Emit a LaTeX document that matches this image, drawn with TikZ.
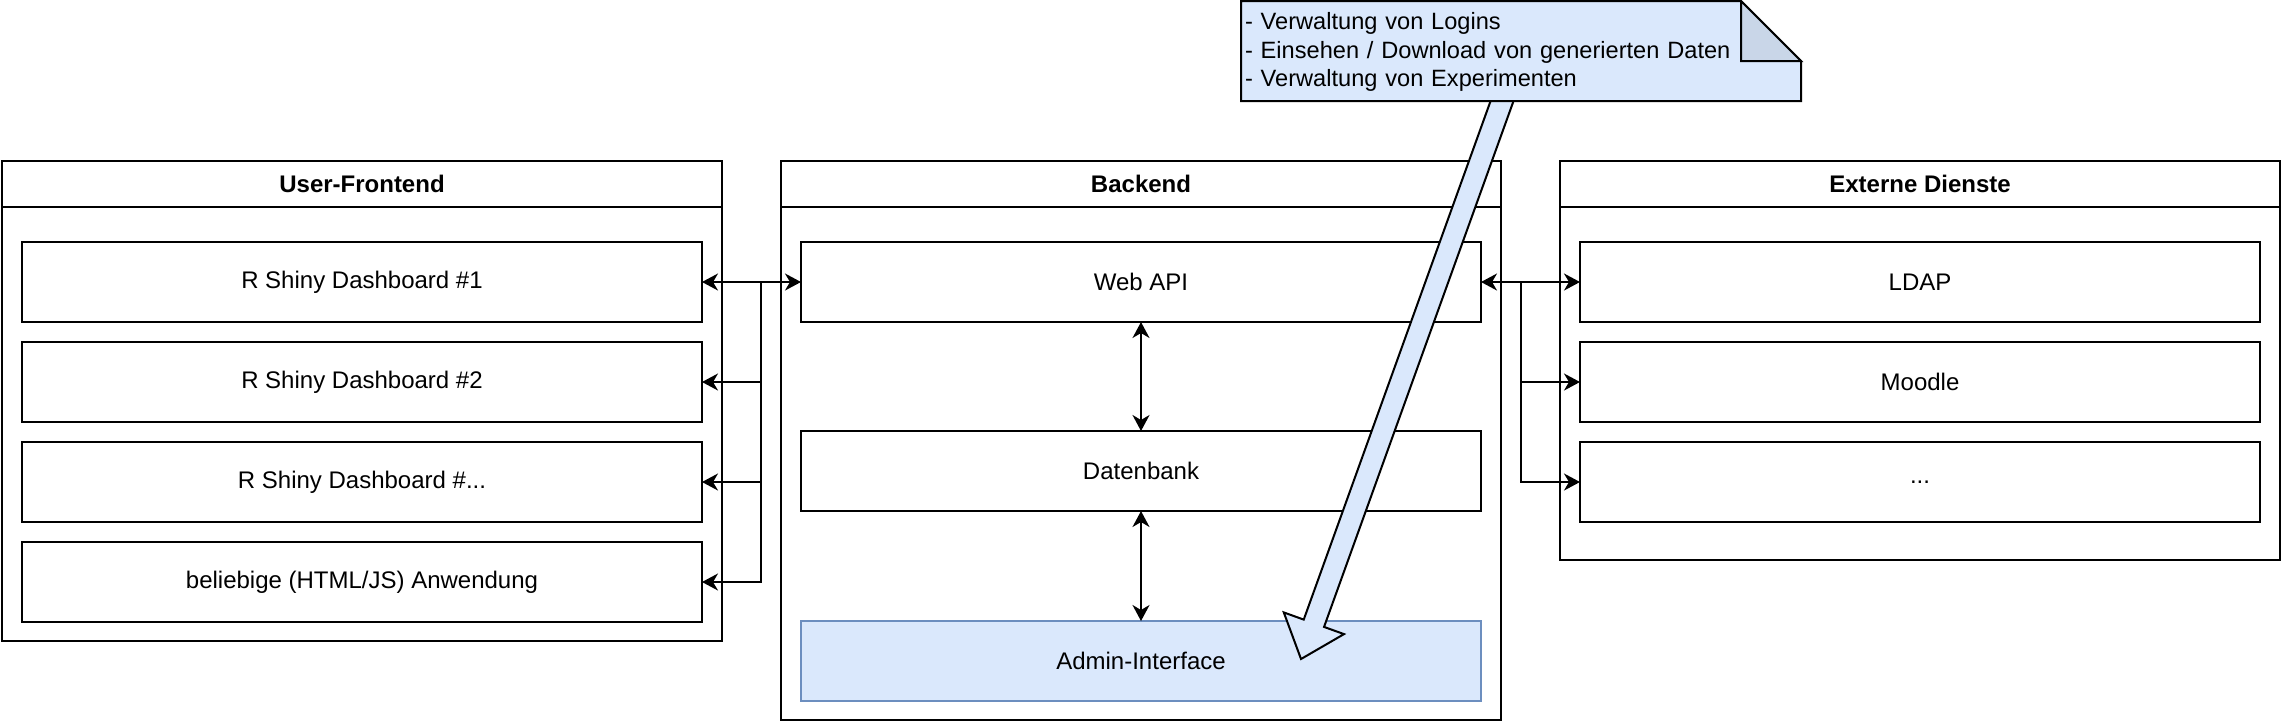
\documentclass[tikz,border=0pt]{standalone}
\usepackage{fontspec}
\setmainfont{Liberation Sans}
\usetikzlibrary{positioning,calc,arrows.meta}
\definecolor{noteblue}{HTML}{DAE8FC}
\definecolor{notefold}{HTML}{C9D6E8}
\definecolor{adminline}{HTML}{6C8EBF}
\begin{document}
\begin{tikzpicture}[x=1pt,y=1pt,line width=1pt,
  every node/.style={font=\fontsize{12}{14.4}\selectfont},
  head/.style={draw,minimum width=360pt,minimum height=23pt,inner sep=0pt,outer sep=0pt,
    font=\fontsize{12}{14.4}\selectfont\bfseries},
  body/.style={draw,minimum width=360pt,inner sep=0pt,outer sep=0pt},
  box/.style={draw,minimum width=340pt,minimum height=40pt,inner sep=0pt,outer sep=0pt},
  link/.style={-{Stealth[length=8pt,width=8.5pt,inset=2.5pt]}},
  both/.style={{Stealth[length=8pt,width=8.5pt,inset=2.5pt]}-{Stealth[length=8pt,width=8.5pt,inset=2.5pt]}}]
\useasboundingbox (0,0) rectangle (1142.5,-362.5);
% User-Frontend
\node [head,anchor=north west] (fe) at (1,-80.5) {User-Frontend};
\node [body,minimum height=217pt,below=0pt of fe] (feb) {};
\node [box,below=17.5pt of fe] (fe1) {R Shiny Dashboard \#1};
\node [box,below=10pt of fe1] (fe2) {R Shiny Dashboard \#2};
\node [box,below=10pt of fe2] (fe3) {R Shiny Dashboard \#...};
\node [box,below=10pt of fe3] (fe4) {beliebige (HTML/JS) Anwendung};
% Backend
\node [head,right=29.5pt of fe] (be) {Backend};
\node [body,minimum height=256.5pt,below=0pt of be] (beb) {};
\node [box,below=17.5pt of be] (web) {Web API};
\node [box,below=54.5pt of web] (db) {Datenbank};
\node [box,draw=adminline,fill=noteblue,below=55pt of db] (admin) {Admin-Interface};
% Externe Dienste
\node [head,right=29.5pt of be] (ex) {Externe Dienste};
\node [body,minimum height=176.5pt,below=0pt of ex] (exb) {};
\node [box,below=17.5pt of ex] (ldap) {LDAP};
\node [box,below=10pt of ldap] (moodle) {Moodle};
\node [box,below=10pt of moodle] (more) {...};
% connections
\coordinate (jl) at ($(web.west)+(-20,0)$);
\coordinate (jr) at ($(web.east)+(20,0)$);
\draw [both] (web.west) -- (fe1.east);
\foreach \n in {fe2,fe3,fe4}
  \draw [link] (jl) |- (\n.east);
\draw [both] (web.east) -- (ldap.west);
\foreach \n in {moodle,more}
  \draw [link] (jr) |- (\n.west);
\draw [both] (web) -- (db);
\draw [both] (db) -- (admin);
% note with big arrow
\coordinate (astart) at (753,-45);
\coordinate (atip) at (650.5,-329.5);
\coordinate (abase) at ($(atip)!19pt!(astart)$);
\draw [fill=noteblue] ($(astart)!5.4pt!90:(atip)$) -- ($(abase)!5.4pt!-90:(astart)$)
  -- ($(abase)!16pt!-90:(astart)$) -- (atip) -- ($(abase)!16pt!90:(astart)$)
  -- ($(abase)!5.4pt!90:(astart)$) -- ($(astart)!5.4pt!-90:(atip)$) -- cycle;
\draw [fill=noteblue] (620.5,-0.5) -- (870.5,-0.5) -- (900.5,-30.5) -- (900.5,-50.5)
  -- (620.5,-50.5) -- cycle;
\draw [fill=notefold] (870.5,-0.5) -- (870.5,-30.5) -- (900.5,-30.5) -- cycle;
\node [anchor=north west,minimum width=280pt,minimum height=50pt,text width=277pt,
  inner xsep=1.5pt,inner ysep=0pt,align=left,font=\fontsize{11.8}{14.4}\selectfont] (note) at (620.5,-0.5)
  {- Verwaltung von Logins\\- Einsehen / Download von generierten Daten\\- Verwaltung von Experimenten};
\end{tikzpicture}
\end{document}
